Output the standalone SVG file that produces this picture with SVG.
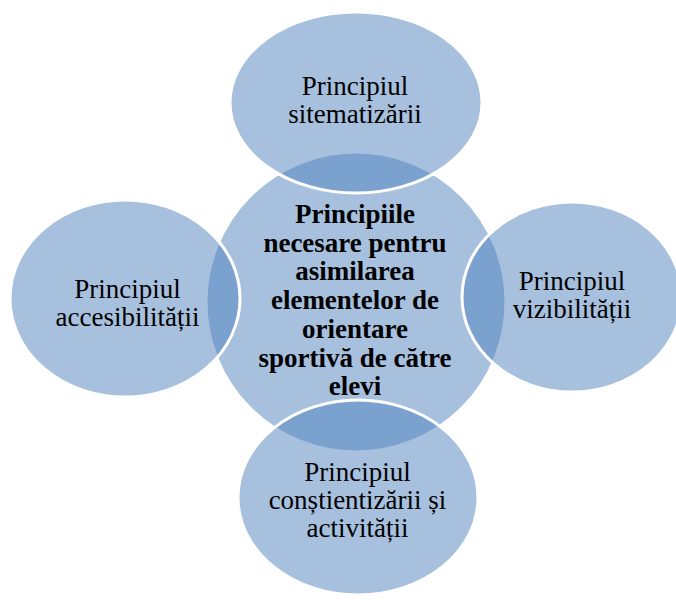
<svg xmlns="http://www.w3.org/2000/svg" width="676" height="600" viewBox="0 0 676 600">
  <style>
    .shape { fill: #4f81bd; fill-opacity: 0.5; stroke: #ffffff; stroke-width: 3; }
    .lbl { font-family: "Liberation Serif", "Times New Roman", serif; font-size: 27px; fill: #000000; text-anchor: middle; }
    .ctr { font-family: "Liberation Serif", "Times New Roman", serif; font-size: 27px; font-weight: bold; fill: #000000; text-anchor: middle; }
  </style>
  <rect width="676" height="600" fill="#ffffff"/>
  <g id="connectors"></g>
  <g id="center">
    <circle class="shape" cx="356" cy="302" r="150"/>
    <text class="ctr" x="355" y="223">Principiile</text>
    <text class="ctr" x="355" y="252">necesare pentru</text>
    <text class="ctr" x="355" y="280">asimilarea</text>
    <text class="ctr" x="355" y="309">elementelor de</text>
    <text class="ctr" x="355" y="338">orientare</text>
    <text class="ctr" x="355" y="367">sportivă de către</text>
    <text class="ctr" x="355" y="395">elevi</text>
  </g>
  <g id="top">
    <ellipse class="shape" cx="356" cy="102.5" rx="126" ry="90.5"/>
    <text class="lbl" x="355" y="95">Principiul</text>
    <text class="lbl" x="355" y="123">sitematizării</text>
  </g>
  <g id="left">
    <ellipse class="shape" cx="125" cy="298.5" rx="115" ry="98.5"/>
    <text class="lbl" x="127.5" y="298">Principiul</text>
    <text class="lbl" x="127.5" y="326">accesibilității</text>
  </g>
  <g id="right">
    <ellipse class="shape" cx="572" cy="297" rx="110" ry="95"/>
    <text class="lbl" x="572" y="290">Principiul</text>
    <text class="lbl" x="572" y="318">vizibilității</text>
  </g>
  <g id="bottom">
    <ellipse class="shape" cx="358" cy="497.5" rx="120" ry="97.5"/>
    <text class="lbl" x="357.5" y="481">Principiul</text>
    <text class="lbl" x="357.5" y="509">conștientizării și</text>
    <text class="lbl" x="357.5" y="537">activității</text>
  </g>
</svg>
